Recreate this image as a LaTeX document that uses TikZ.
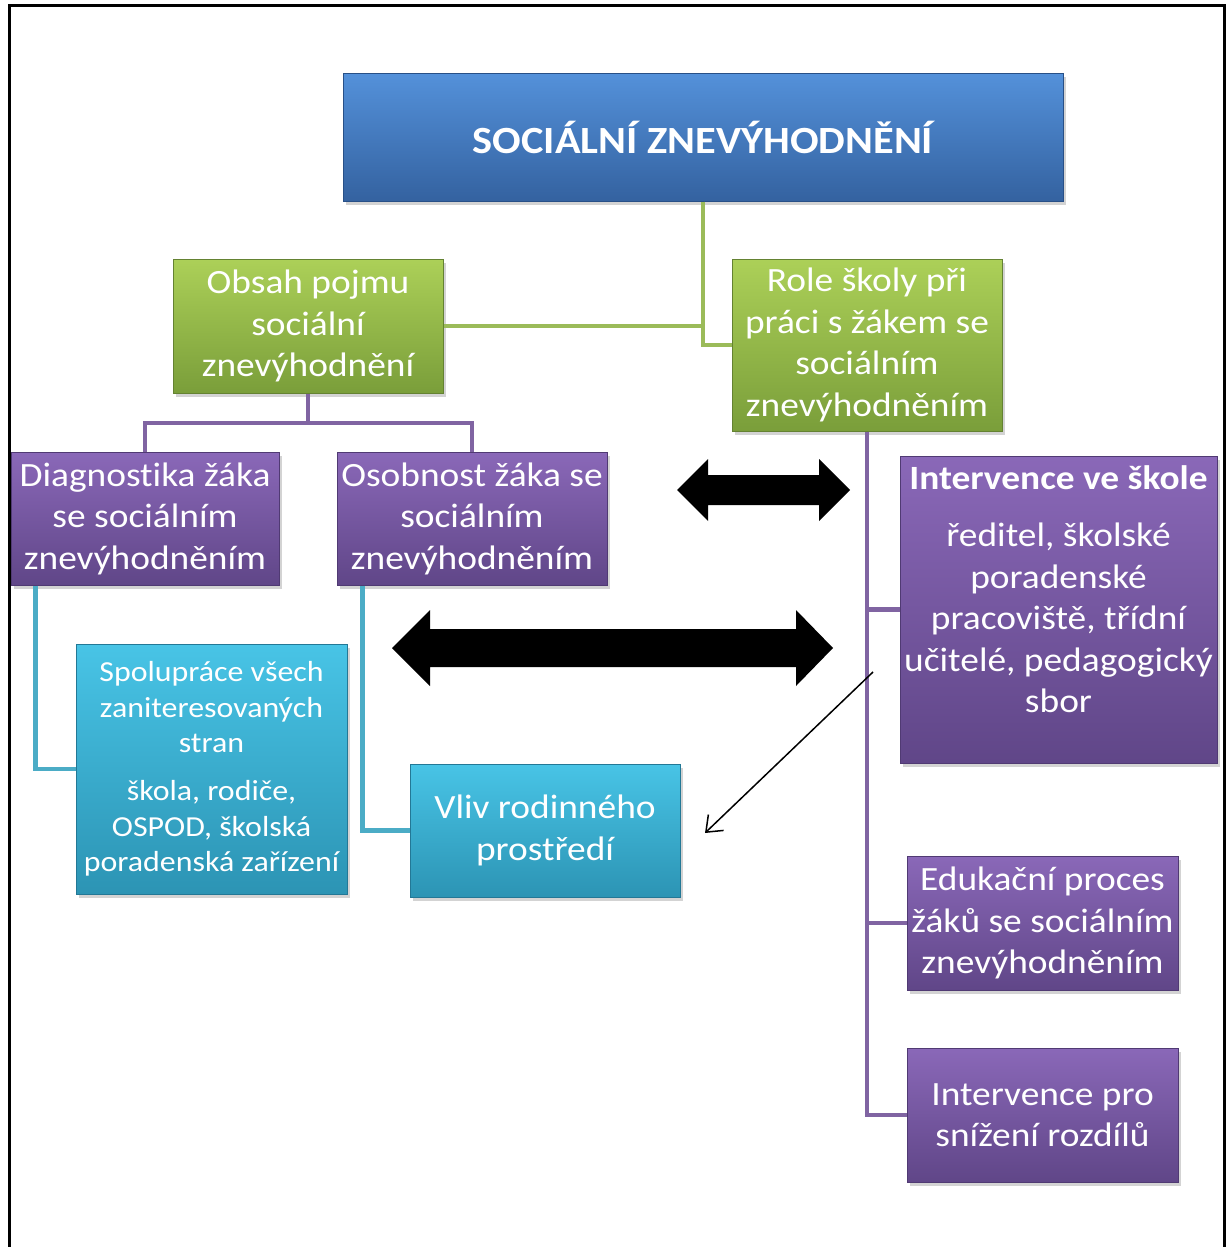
\documentclass[tikz,border=0pt]{standalone}
\usepackage{fontspec}
\setmainfont{Carlito}[FakeStretch=1.1, Ligatures=NoCommon]
\usetikzlibrary{shadows,arrows.meta}

\definecolor{bluetop}{RGB}{84,145,218}
\definecolor{bluebot}{RGB}{52,98,160}
\definecolor{bluerim}{RGB}{40,80,135}
\definecolor{greentop}{RGB}{172,208,88}
\definecolor{greenbot}{RGB}{122,158,58}
\definecolor{greenrim}{RGB}{100,130,50}
\definecolor{violettop}{RGB}{138,104,184}
\definecolor{violetbot}{RGB}{96,70,136}
\definecolor{violetrim}{RGB}{80,58,115}
\definecolor{cyantop}{RGB}{72,196,230}
\definecolor{cyanbot}{RGB}{44,148,180}
\definecolor{cyanrim}{RGB}{35,120,150}
\definecolor{greenlink}{RGB}{155,187,89}
\definecolor{violetlink}{RGB}{128,100,162}
\definecolor{cyanlink}{RGB}{75,172,198}

\tikzset{
  sabox/.style={rectangle, inner sep=0pt, align=center, text=white, line width=1pt,
    font=\fontsize{34}{41.5}\selectfont,
    drop shadow={shadow xshift=3pt, shadow yshift=-4pt, opacity=0.35}},
  titlebox/.style={sabox, top color=bluetop, bottom color=bluebot, draw=bluerim,
    font=\bfseries\fontsize{38.5}{46}\selectfont},
  greenbox/.style={sabox, top color=greentop, bottom color=greenbot, draw=greenrim},
  violetbox/.style={sabox, top color=violettop, bottom color=violetbot, draw=violetrim},
  cyanbox/.style={sabox, top color=cyantop, bottom color=cyanbot, draw=cyanrim},
  greenline/.style={draw=greenlink, line width=4.5pt},
  violetline/.style={draw=violetlink, line width=4.5pt},
  cyanline/.style={draw=cyanlink, line width=4.5pt},
  bigarrow/.style={fill=black}
}

\begin{document}
\begin{tikzpicture}[x=1pt, y=-1pt]
\useasboundingbox (0,0) rectangle (1231,1247);
\draw[line width=3pt] (9,1260) -- (9,6) -- (1224,6) -- (1224,1260);

\node[titlebox, minimum width=720, minimum height=128] (title) at (703,137) {SOCIÁLNÍ ZNEVÝHODNĚNÍ};

\node[greenbox, minimum width=270, minimum height=134] (obsah) at (308,326) {Obsah pojmu\\sociální\\znevýhodnění};
\node[greenbox, minimum width=270, minimum height=172] (role) at (867,345) {Role školy při\\práci s žákem se\\sociálním\\znevýhodněním};

\node[violetbox, minimum width=268, minimum height=133] (diag) at (145,518.5) {Diagnostika žáka\\se sociálním\\znevýhodněním};
\node[violetbox, minimum width=270, minimum height=133] (osob) at (472,518.5) {Osobnost žáka se\\sociálním\\znevýhodněním};

\node[violetbox, minimum width=317, minimum height=307] (interv) at (1058.5,609.5) {};
\node[anchor=north, inner sep=0pt, align=center, text=white, font=\fontsize{34}{41.5}\selectfont] (intervtext) at ([yshift=-10pt]interv.north)
  {\textbf{Intervence ve škole}\\[15.5pt]ředitel, školské\\poradenské\\pracoviště, třídní\\učitelé, pedagogický\\sbor};
\node[violetbox, minimum width=271, minimum height=134] (eduk) at (1042.5,923) {Edukační proces\\žáků se sociálním\\znevýhodněním};
\node[violetbox, minimum width=271, minimum height=134] (intpro) at (1042.5,1115) {Intervence pro\\snížení rozdílů};

\node[cyanbox, minimum width=271, minimum height=250, font=\fontsize{29}{35.5}\selectfont] (spol) at (211.5,769)
  {Spolupráce všech\\zaniteresovaných\\stran\\[12.5pt]škola, rodiče,\\OSPOD, školská\\poradenská zařízení};
\node[cyanbox, minimum width=270, minimum height=133] (vliv) at (545,830.5) {Vliv rodinného\\prostředí};

\draw[greenline] (title.south) |- (obsah.east);
\draw[greenline] (title.south) |- (role.west);

\draw[violetline] (obsah.south) -- ++(0,29.5) coordinate (obsahfork) -| (diag.north);
\draw[violetline] (obsahfork) -| (osob.north);

\draw[violetline] (role.south) |- (interv.west);
\draw[violetline] (role.south) |- (eduk.west);
\draw[violetline] (role.south) |- (intpro.west);

\draw[cyanline] ([xshift=25pt]diag.south west) |- (spol.west);
\draw[cyanline] ([xshift=26pt]osob.south west) |- (vliv.west);

\fill[bigarrow] (677,490) -- (708,459) -- (708,475) -- (819,475) -- (819,459) -- (850,490)
  -- (819,521) -- (819,505) -- (708,505) -- (708,521) -- cycle;
\fill[bigarrow] (392,648) -- (430,610) -- (430,629) -- (796,629) -- (796,610) -- (833,648)
  -- (796,686) -- (796,667) -- (430,667) -- (430,686) -- cycle;

\coordinate (thinfrom) at (873,672);
\coordinate (thinto) at (705,833);
\draw[line width=1.5pt, -{Straight Barb[length=14pt, width=22pt]}] (thinfrom) -- (thinto);
\end{tikzpicture}
\end{document}
